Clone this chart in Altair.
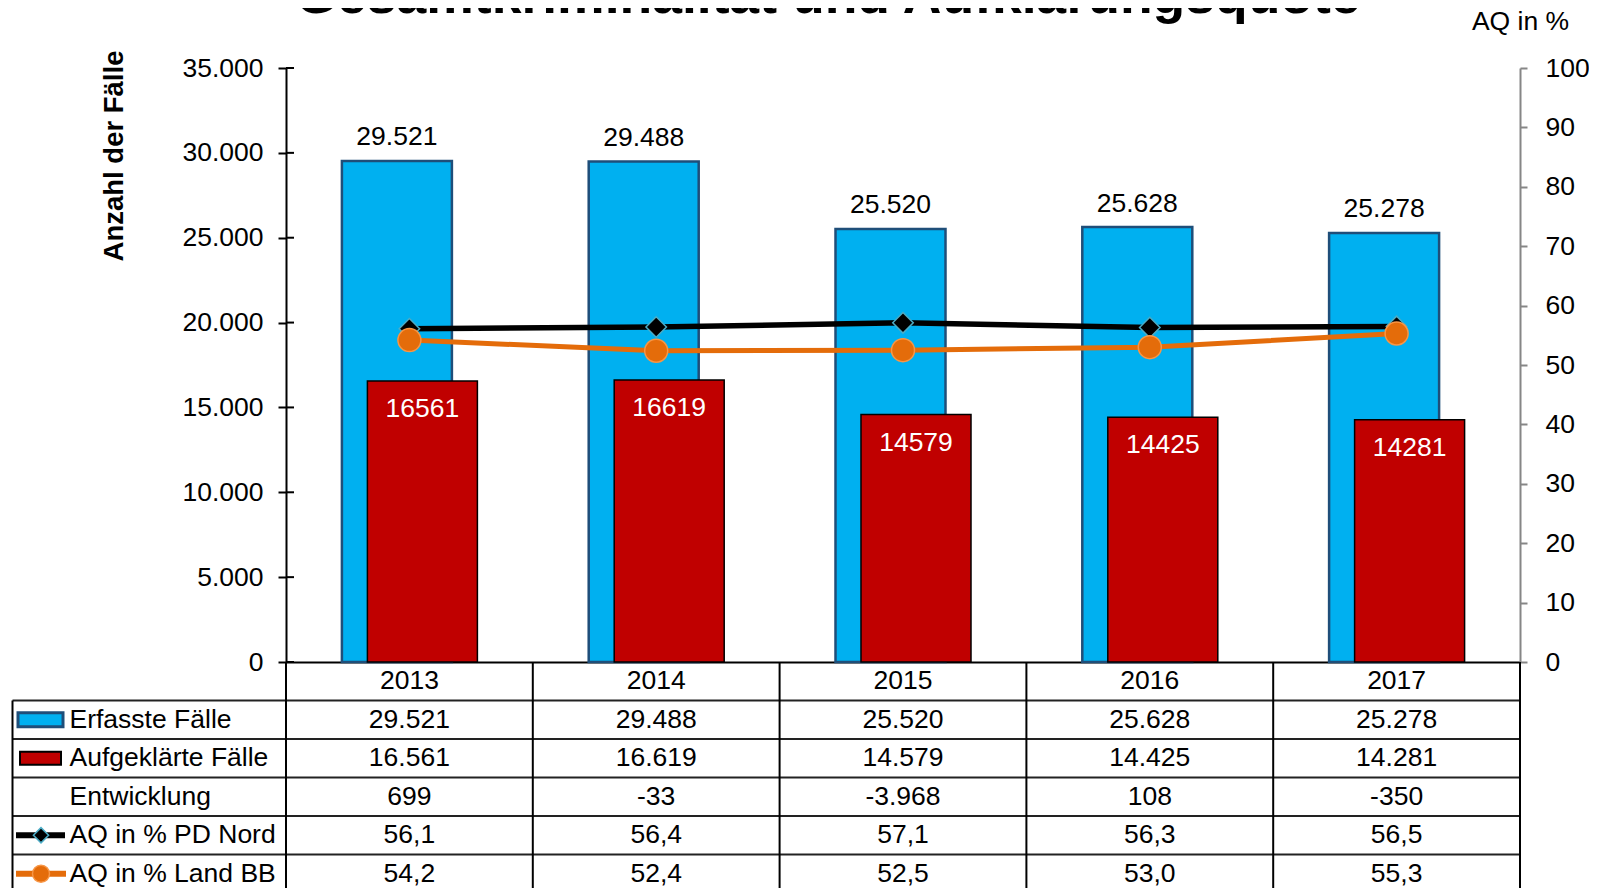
import altair as alt
import pandas as pd

# ---------------- data ----------------
YEARS = ["2013", "2014", "2015", "2016", "2017"]
ERFASST = [29521, 29488, 25520, 25628, 25278]
AUFGEKLAERT = [16561, 16619, 14579, 14425, 14281]
ENTWICKLUNG = [699, -33, -3968, 108, -350]
AQ_PD_NORD = [56.1, 56.4, 57.1, 56.3, 56.5]
AQ_LAND_BB = [54.2, 52.4, 52.5, 53.0, 55.3]
ROW_NAMES = ["Erfasste Fälle", "Aufgeklärte Fälle", "Entwicklung",
             "AQ in % PD Nord", "AQ in % Land BB"]
HEADER = "Jahr"
LEFT_TICKS = [0, 5000, 10000, 15000, 20000, 25000, 30000, 35000]
RIGHT_TICKS = [0, 10, 20, 30, 40, 50, 60, 70, 80, 90, 100]
TITLE = "Gesamtkriminalität und Aufklärungsquote"
LEFT_TITLE = "Anzahl der Fälle"
RIGHT_TITLE = "AQ in %"

# ---------------- layout constants ----------------
W, H = 1234, 594
ROW_H = 38.5
TABLE_BOTTOM = H + 6 * ROW_H
FONT = "Liberation Sans"
FS = 26.5

BLUE, BLUE_EDGE = "#00B0F0", "#1F4E79"
RED = "#C00000"
ORANGE, ORANGE_EDGE = "#E46C0A", "#F79646"
TEAL = "#4BACC6"
GREY = "#868686"

df = pd.DataFrame({"year": YEARS, "erfasst": ERFASST, "aufgeklaert": AUFGEKLAERT,
                   "pd": AQ_PD_NORD, "bb": AQ_LAND_BB})

x_scale = alt.Scale(domain=YEARS, paddingInner=0, paddingOuter=0)
x_axis = alt.Axis(orient="bottom", labelFontSize=FS, labelColor="black", ticks=False,
                  tickSize=0, labelPadding=18.5, labelBaseline="middle", labelAngle=0,
                  domainColor="black", domainWidth=2, labelFont=FONT)


def xenc(**kw):
    return alt.X("year:O", scale=x_scale, axis=x_axis, title=None, **kw)


left_scale = alt.Scale(domain=[0, 35000], nice=False, zero=True)
left_axis = alt.Axis(orient="left", values=LEFT_TICKS, format=",d", labelFontSize=FS,
                     labelColor="black", tickSize=8, tickColor="black", tickWidth=2,
                     domainColor="black", domainWidth=2, labelPadding=15, grid=False,
                     titleFontSize=27.5, titleFontWeight="bold", titleX=-172, titleY=87.5,
                     titleAngle=270, titleAlign="center", titleBaseline="middle",
                     titleColor="black", labelFont=FONT, titleFont=FONT)


def yleft(field):
    return alt.Y(f"{field}:Q", scale=left_scale, axis=left_axis, title=LEFT_TITLE)


right_scale = alt.Scale(domain=[0, 100], nice=False, zero=True)
right_axis = alt.Axis(orient="right", values=RIGHT_TICKS, labelFontSize=FS,
                      labelColor="black", tickSize=7, tickColor=GREY, tickWidth=2,
                      domainColor=GREY, domainWidth=2, labelPadding=18, grid=False,
                      titleFontSize=FS, titleFontWeight="normal", titleAngle=0,
                      titleX=0, titleY=-46.5, titleAlign="center",
                      titleBaseline="middle", titleColor="black",
                      labelFont=FONT, titleFont=FONT)


def yright(field):
    return alt.Y(f"{field}:Q", scale=right_scale, axis=right_axis, title=RIGHT_TITLE)


base = alt.Chart(df)

# ---------------- bars ----------------
blue_bar = base.mark_bar(width=110, xOffset=-12.5, fill=BLUE, stroke=BLUE_EDGE,
                         strokeWidth=2.5).encode(x=xenc(), y=yleft("erfasst"))
blue_txt = base.mark_text(xOffset=-12.5, dy=-23.5, fontSize=FS, font=FONT,
                          color="black", baseline="middle").encode(
    x=xenc(), y=yleft("erfasst"), text=alt.Text("erfasst:Q", format=",d"))
red_bar = base.mark_bar(width=110, xOffset=13, fill=RED, stroke="black",
                        strokeWidth=1.5).encode(x=xenc(), y=yleft("aufgeklaert"))
red_txt = base.mark_text(xOffset=13, dy=28, fontSize=FS, font=FONT,
                         color="white", baseline="middle").encode(
    x=xenc(), y=yleft("aufgeklaert"), text=alt.Text("aufgeklaert:Q", format="d"))
inner_ticks = alt.Chart(pd.DataFrame({"t": LEFT_TICKS})).mark_rule(
    color="black", strokeWidth=2).encode(
    y=yleft("t"), x=alt.value(0), x2=alt.value(8))

bars = alt.layer(blue_bar, blue_txt, red_bar, red_txt, inner_ticks)

# ---------------- lines ----------------
pd_line = base.mark_line(color="black", strokeWidth=5.5).encode(x=xenc(), y=yright("pd"))
pd_pts = base.mark_point(shape="diamond", filled=True, fill="black", stroke=TEAL,
                         strokeWidth=1.5, size=420, opacity=1).encode(
    x=xenc(), y=yright("pd"))
bb_line = base.mark_line(color=ORANGE, strokeWidth=5).encode(x=xenc(), y=yright("bb"))
bb_pts = base.mark_point(shape="circle", filled=True, fill=ORANGE, stroke=ORANGE_EDGE,
                         strokeWidth=1.5, size=529, opacity=1).encode(
    x=xenc(), y=yright("bb"))
lines = alt.layer(pd_line, pd_pts, bb_line, bb_pts)

# ---------------- data table ----------------
row_scale = alt.Scale(domain=[HEADER] + ROW_NAMES, range=[H, TABLE_BOTTOM],
                      paddingInner=0, paddingOuter=0)


def yrow(**kw):
    return alt.Y("row:N", scale=row_scale, axis=None, **kw)


int_rows = []
for name, vals in zip(ROW_NAMES[:3], [ERFASST, AUFGEKLAERT, ENTWICKLUNG]):
    for y, v in zip(YEARS, vals):
        int_rows.append({"row": name, "year": y, "v": v})
pct_rows = []
for name, vals in zip(ROW_NAMES[3:], [AQ_PD_NORD, AQ_LAND_BB]):
    for y, v in zip(YEARS, vals):
        pct_rows.append({"row": name, "year": y, "v": v})

int_txt = alt.Chart(pd.DataFrame(int_rows)).mark_text(
    fontSize=FS, font=FONT, color="black", baseline="middle").encode(
    x=xenc(), y=yrow(), text=alt.Text("v:Q", format=",d"))
pct_txt = alt.Chart(pd.DataFrame(pct_rows)).mark_text(
    fontSize=FS, font=FONT, color="black", baseline="middle").encode(
    x=xenc(), y=yrow(), text=alt.Text("v:Q", format=",.1f"))

names_df = pd.DataFrame({"row": ROW_NAMES})
name_txt = alt.Chart(names_df).mark_text(
    fontSize=FS, font=FONT, color="black", baseline="middle", align="left").encode(
    x=alt.value(-216.5), y=yrow(), text="row:N")

hlines = alt.Chart(names_df).mark_rule(color="#222222", strokeWidth=2).encode(
    y=yrow(bandPosition=0), x=alt.value(-273.5), x2=alt.value(W))
vlines = alt.Chart(pd.DataFrame({"year": YEARS})).mark_rule(
    color="black", strokeWidth=2).encode(
    x=xenc(bandPosition=0), y=alt.value(H), y2=alt.value(TABLE_BOTTOM))
edge_df = pd.DataFrame({"row": [HEADER]})
right_edge = alt.Chart(edge_df).mark_rule(color="black", strokeWidth=2).encode(
    x=alt.value(W), y=alt.value(H), y2=alt.value(TABLE_BOTTOM))
left_edge = alt.Chart(edge_df).mark_rule(color="black", strokeWidth=2).encode(
    x=alt.value(-273.5), y=alt.value(H + ROW_H), y2=alt.value(TABLE_BOTTOM))

# legend keys in the first column
key_blue = alt.Chart(pd.DataFrame({"row": [ROW_NAMES[0]]})).mark_bar(
    height=14, fill=BLUE, stroke=BLUE_EDGE, strokeWidth=3).encode(
    y=yrow(), x=alt.value(-268), x2=alt.value(-223))
key_red = alt.Chart(pd.DataFrame({"row": [ROW_NAMES[1]]})).mark_bar(
    height=13, fill=RED, stroke="black", strokeWidth=2).encode(
    y=yrow(), x=alt.value(-266), x2=alt.value(-225))
key_pd_line = alt.Chart(pd.DataFrame({"row": [ROW_NAMES[3]]})).mark_rule(
    color="black", strokeWidth=6).encode(
    y=yrow(bandPosition=0.5), x=alt.value(-270), x2=alt.value(-221))
key_pd_pt = alt.Chart(pd.DataFrame({"row": [ROW_NAMES[3]]})).mark_point(
    shape="diamond", filled=True, fill="black", stroke=TEAL, strokeWidth=1.5,
    size=230, opacity=1).encode(y=yrow(bandPosition=0.5), x=alt.value(-245))
key_bb_line = alt.Chart(pd.DataFrame({"row": [ROW_NAMES[4]]})).mark_rule(
    color=ORANGE, strokeWidth=6).encode(
    y=yrow(bandPosition=0.5), x=alt.value(-270), x2=alt.value(-220))
key_bb_pt = alt.Chart(pd.DataFrame({"row": [ROW_NAMES[4]]})).mark_point(
    shape="circle", filled=True, fill=ORANGE, stroke=ORANGE_EDGE, strokeWidth=1.5,
    size=290, opacity=1).encode(y=yrow(bandPosition=0.5), x=alt.value(-245))

# chart title (cut at the top edge, as in the original)
title_txt = alt.Chart(pd.DataFrame({"t": [TITLE]})).mark_text(
    fontSize=53.5, fontWeight="bold", font=FONT, color="black", align="center",
    baseline="alphabetic").encode(text="t:N", x=alt.value(542), y=alt.value(-55))

table = alt.layer(hlines, vlines, right_edge, left_edge, int_txt, pct_txt, name_txt,
                  key_blue, key_red, key_pd_line, key_pd_pt, key_bb_line, key_bb_pt,
                  title_txt)

chart = alt.layer(bars, lines, table).resolve_scale(y="independent").properties(
    width=W, height=H,
    autosize=alt.AutoSizeParams(type="none"),
    padding={"left": 278, "top": 60, "right": 69, "bottom": 226},
    background="white",
).configure(
    font=FONT,
    view={"stroke": "transparent"},
    locale={"number": {"decimal": ",", "thousands": ".", "grouping": [3],
                       "currency": ["", " €"], "minus": "-"}},
)

chart.save("out.html", embed_options={"renderer": "svg", "actions": False})
